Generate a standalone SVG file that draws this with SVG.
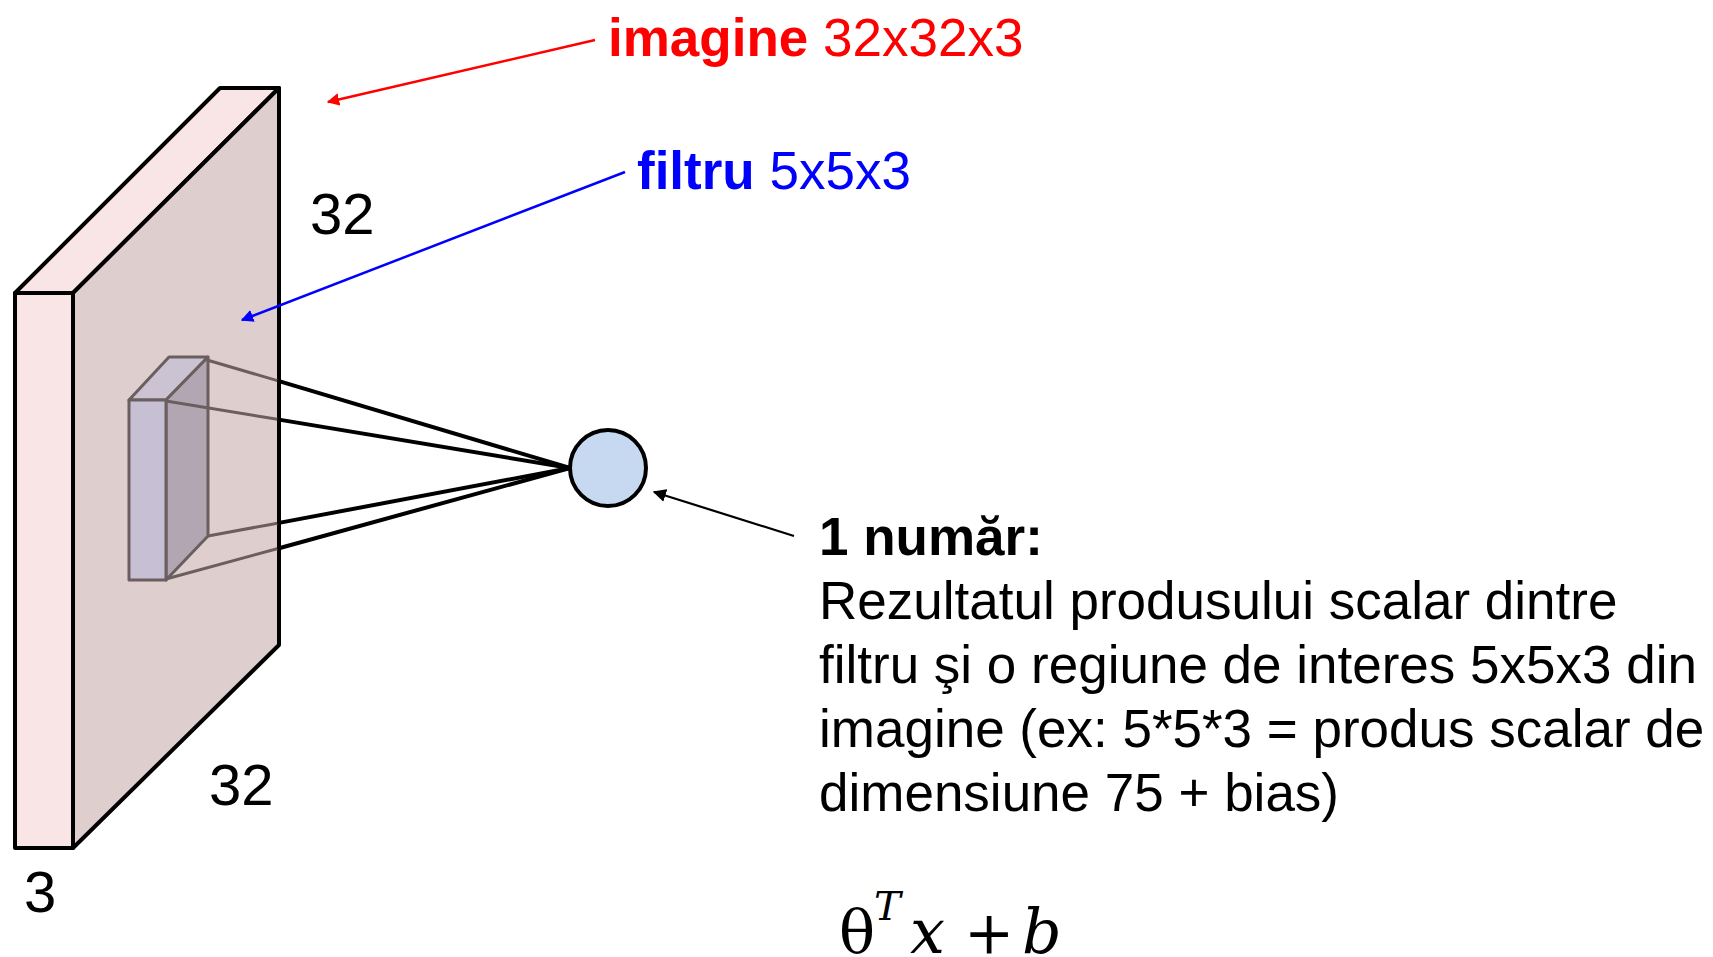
<svg xmlns="http://www.w3.org/2000/svg" width="1713" height="957" viewBox="0 0 1713 957">
<defs>
<style>
.box{stroke:#000;stroke-width:4;stroke-linejoin:round}
.flt{stroke:#6b5e5e;stroke-width:3;stroke-linejoin:round}
.lin{stroke:#000;stroke-width:4;stroke-linecap:round;fill:none}
.lg{stroke:#6b5e5e;stroke-width:3;fill:none}
.t{font-family:"Liberation Sans",Arial,sans-serif;font-size:53px}
.b{font-weight:bold}
.m{font-family:"DejaVu Serif","Liberation Serif",serif}
</style>
<marker id="ar" viewBox="0 0 10 10" refX="9" refY="5" markerWidth="5" markerHeight="5" orient="auto" markerUnits="strokeWidth"><path d="M0,0 L10,5 L0,10 z" fill="#ff0000"/></marker>
<marker id="ab" viewBox="0 0 10 10" refX="9" refY="5" markerWidth="5" markerHeight="5" orient="auto" markerUnits="strokeWidth"><path d="M0,0 L10,5 L0,10 z" fill="#0000ff"/></marker>
<marker id="ak" viewBox="0 0 10 10" refX="9" refY="5" markerWidth="6" markerHeight="6" orient="auto" markerUnits="strokeWidth"><path d="M0,0 L10,5 L0,10 z" fill="#000"/></marker>
</defs>
<rect width="1713" height="957" fill="#fff"/>
<g id="input-volume">
<polygon class="box" points="15,293 220,88 279,88 73,293" fill="#f9e5e5"/>
<polygon class="box" points="73,293 279,88 279,645 73,848" fill="#dfcece"/>
<rect class="box" x="15" y="293" width="58" height="555" fill="#f9e5e5"/>
</g>
<g id="filter">
<polygon class="flt" points="129,400 169,357 208,357 166,400" fill="#cbc2d2"/>
<polygon class="flt" points="166,400 208,357 208,536 166,580" fill="#b2a6b2"/>
<rect class="flt" x="129" y="400" width="37" height="180" fill="#c7c0d4"/>
</g>
<g id="connectors">
<line class="lg" x1="207" y1="360" x2="279" y2="381.1"/>
<line class="lg" x1="166" y1="401" x2="279" y2="419.6"/>
<line class="lg" x1="208" y1="536" x2="279" y2="522.9"/>
<line class="lg" x1="166" y1="579" x2="279" y2="548.2"/>
<line class="lin" x1="279" y1="381.1" x2="570" y2="468"/>
<line class="lin" x1="279" y1="419.6" x2="570" y2="468"/>
<line class="lin" x1="279" y1="522.9" x2="570" y2="468"/>
<line class="lin" x1="279" y1="548.2" x2="570" y2="468"/>
<line x1="595" y1="40" x2="328" y2="102" stroke="#ff0000" stroke-width="2.5" marker-end="url(#ar)"/>
<line x1="625" y1="172" x2="242" y2="320" stroke="#0000ff" stroke-width="2.5" marker-end="url(#ab)"/>
<line x1="794" y1="536" x2="654" y2="492" stroke="#000" stroke-width="2.2" marker-end="url(#ak)"/>
</g>
<g id="neuron">
<circle cx="608" cy="468" r="38" fill="#c6d9f1" stroke="#000" stroke-width="4"/>
</g>
<g id="labels">
<text class="t" x="608" y="56" fill="#ff0000"><tspan class="b">imagine</tspan> 32x32x3</text>
<text class="t" x="637" y="189" fill="#0000ff"><tspan class="b">filtru</tspan> 5x5x3</text>
<text class="t" x="310" y="234" style="font-size:58px">32</text>
<text class="t" x="209" y="805" style="font-size:58px">32</text>
<text class="t" x="24" y="912" style="font-size:58px">3</text>
<text class="t b" x="819" y="555">1 număr:</text>
<text class="t" x="819" y="619">Rezultatul produsului scalar dintre</text>
<text class="t" x="819" y="683">filtru şi o regiune de interes 5x5x3 din</text>
<text class="t" x="819" y="747">imagine (ex: 5*5*3 = produs scalar de</text>
<text class="t" x="819" y="811">dimensiune 75 + bias)</text>
</g>
<g id="formula" class="m">
<text x="839" y="953" font-size="60">θ</text>
<text x="874" y="920" font-size="40" font-style="italic">T</text>
<text x="910" y="953" font-size="62" font-style="italic">x</text>
<text x="964" y="953" font-size="60">+</text>
<text x="1022" y="953" font-size="62" font-style="italic">b</text>
</g>
</svg>
